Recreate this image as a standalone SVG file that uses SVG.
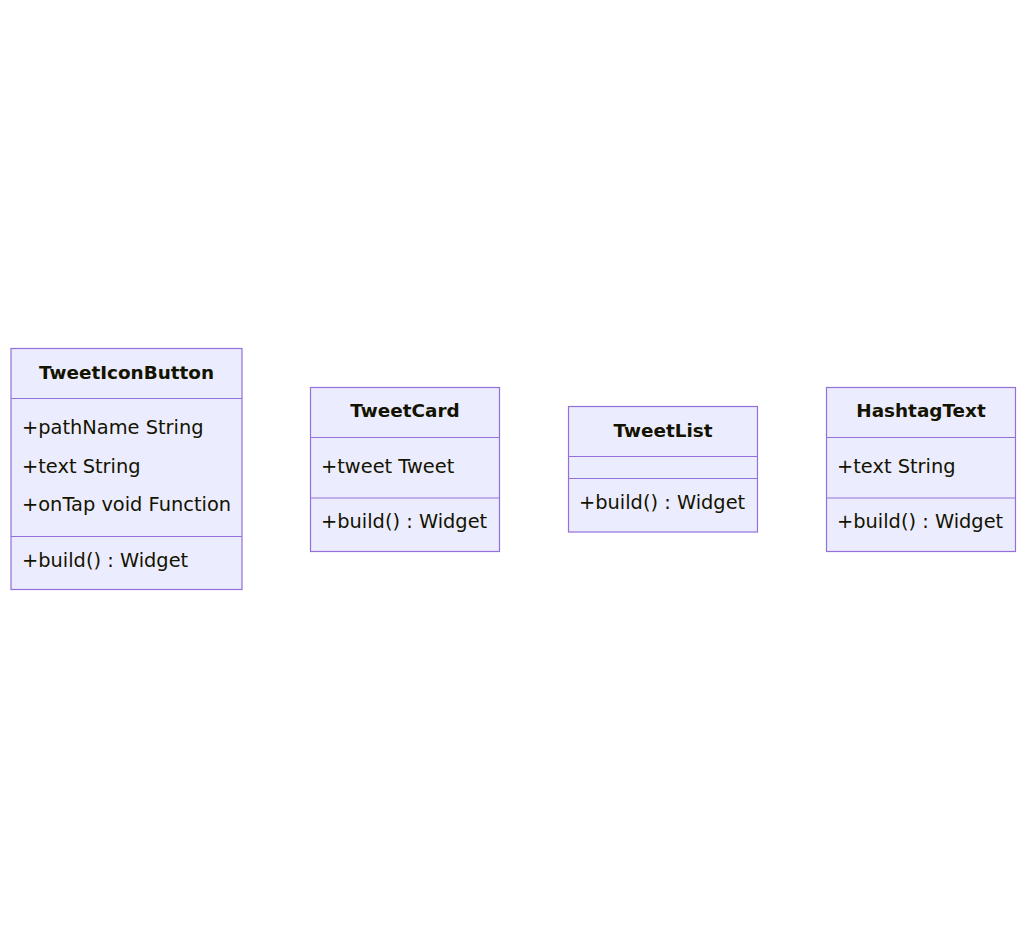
<svg xmlns="http://www.w3.org/2000/svg" width="1026" height="939" viewBox="0 0 1026 939">
<style>
.box{fill:#ECECFF;stroke:#9370DB;stroke-width:1.2}
.div{stroke:#9370DB;stroke-width:1.2;fill:none}
.t{font-family:"DejaVu Sans","Liberation Sans",sans-serif;font-size:19.4px;fill:#131300}
.h{font-family:"DejaVu Sans","Liberation Sans",sans-serif;font-size:18.4px;font-weight:bold;fill:#131300;text-anchor:middle}
</style>
<rect width="1026" height="939" fill="#ffffff"/>
<g id="connectors"></g>
<g id="TweetIconButton">
<rect class="box" x="11" y="348.5" width="231" height="241"/>
<line class="div" x1="11" y1="398.5" x2="242" y2="398.5"/>
<line class="div" x1="11" y1="536.5" x2="242" y2="536.5"/>
<text class="h" x="126.5" y="379">TweetIconButton</text>
<text class="t" x="22" y="434">+pathName String</text>
<text class="t" x="22" y="473">+text String</text>
<text class="t" x="22" y="511">+onTap void Function</text>
<text class="t" x="22" y="567">+build() : Widget</text>
</g>
<g id="TweetCard">
<rect class="box" x="310.5" y="387.5" width="189" height="164"/>
<line class="div" x1="310.5" y1="437.5" x2="499.5" y2="437.5"/>
<line class="div" x1="310.5" y1="498" x2="499.5" y2="498"/>
<text class="h" x="405" y="417">TweetCard</text>
<text class="t" x="321" y="473">+tweet Tweet</text>
<text class="t" x="321" y="528">+build() : Widget</text>
</g>
<g id="TweetList">
<rect class="box" x="568.5" y="406.5" width="189" height="125.5"/>
<line class="div" x1="568.5" y1="456.5" x2="757.5" y2="456.5"/>
<line class="div" x1="568.5" y1="478.5" x2="757.5" y2="478.5"/>
<text class="h" x="663" y="437">TweetList</text>
<text class="t" x="579" y="509">+build() : Widget</text>
</g>
<g id="HashtagText">
<rect class="box" x="826.5" y="387.5" width="189" height="164"/>
<line class="div" x1="826.5" y1="437.5" x2="1015.5" y2="437.5"/>
<line class="div" x1="826.5" y1="498" x2="1015.5" y2="498"/>
<text class="h" x="921" y="417">HashtagText</text>
<text class="t" x="837" y="473">+text String</text>
<text class="t" x="837" y="528">+build() : Widget</text>
</g>
</svg>
